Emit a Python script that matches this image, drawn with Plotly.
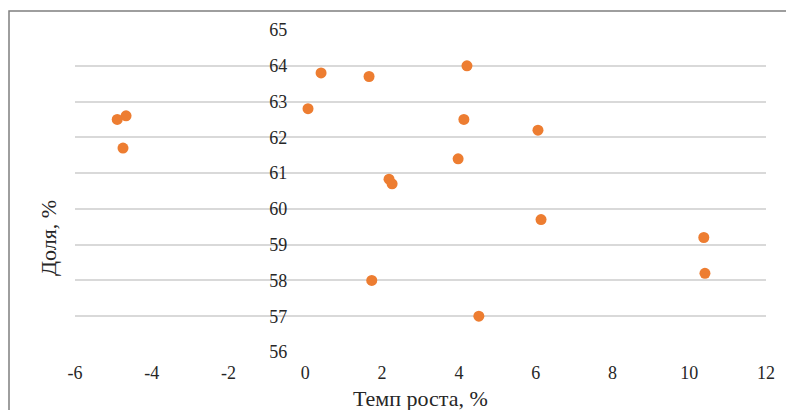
import plotly.graph_objects as go

growth = [-4.90, -4.67, -4.75, 0.07, 0.41, 1.66, 2.18, 2.26, 1.73, 4.21, 4.13, 3.98, 4.52, 6.06, 6.14, 10.38, 10.41]
share = [62.5, 62.6, 61.7, 62.8, 63.8, 63.7, 60.83, 60.7, 58.0, 64.0, 62.5, 61.4, 57.0, 62.2, 59.7, 59.2, 58.2]

x_ticks = [-6, -4, -2, 0, 2, 4, 6, 8, 10, 12]
x_tick_labels = ["-6", "-4", "-2", "0", "2", "4", "6", "8", "10", "12"]
y_ticks = [56, 57, 58, 59, 60, 61, 62, 63, 64, 65]

x_title = "Темп роста, %"
y_title = "Доля, %"

# page body has an 8px margin in the browser
OFF = 8
W, H = 794 - 2 * OFF, 418 - 2 * OFF
PL, PR, PT, PB = 75, 766, 30, 352  # plot area in screen pixels
L, T = PL - OFF, PT - OFF
R = W - (PR - PL) - L
B = H - (PB - PT) - T
PW, PH = PR - PL, PB - PT

def px(xs):
    return (xs - PL) / PW

def py(ys):
    return (PB - ys) / PH

fig = go.Figure()
fig.add_trace(go.Scatter(
    x=growth, y=share, mode="markers",
    marker=dict(color="#ED7D31", size=11, line=dict(width=0)),
    showlegend=False, cliponaxis=False,
))

FAM = "Liberation Serif"
font = dict(family=FAM, color="#262626")

fig.update_layout(
    width=W, height=H,
    margin=dict(l=L, r=R, t=T, b=B),
    paper_bgcolor="white", plot_bgcolor="white",
    font=dict(**font, size=18),
    xaxis=dict(
        range=[-6, 12], tickvals=x_ticks, ticktext=x_tick_labels,
        showgrid=False, zeroline=False, showline=False,
        ticks="", ticklabelstandoff=8,
        tickfont=dict(**font, size=18),
    ),
    yaxis=dict(
        range=[56, 65], tickvals=y_ticks,
        anchor="free", position=1/3,
        showgrid=True, gridcolor="#D9D9D9", gridwidth=1.5,
        zeroline=False, showline=False,
        ticks="", ticklabelstandoff=18,
        tickfont=dict(**font, size=18),
    ),
    annotations=[
        dict(text=x_title, xref="paper", yref="paper", x=0.5, y=py(399),
             xanchor="center", yanchor="middle", showarrow=False,
             font=dict(**font, size=22)),
        dict(text=y_title, xref="paper", yref="paper",
             x=px(48), y=py(238),
             xanchor="center", yanchor="middle", textangle=-90, showarrow=False,
             font=dict(**font, size=22)),
    ],
    shapes=[
        dict(type="rect", xref="paper", yref="paper",
             x0=px(9), x1=px(830), y0=py(460), y1=py(11),
             line=dict(color="#7F7F7F", width=1.5), fillcolor="rgba(0,0,0,0)",
             layer="below"),
    ],
)

fig.write_html("out.html")
